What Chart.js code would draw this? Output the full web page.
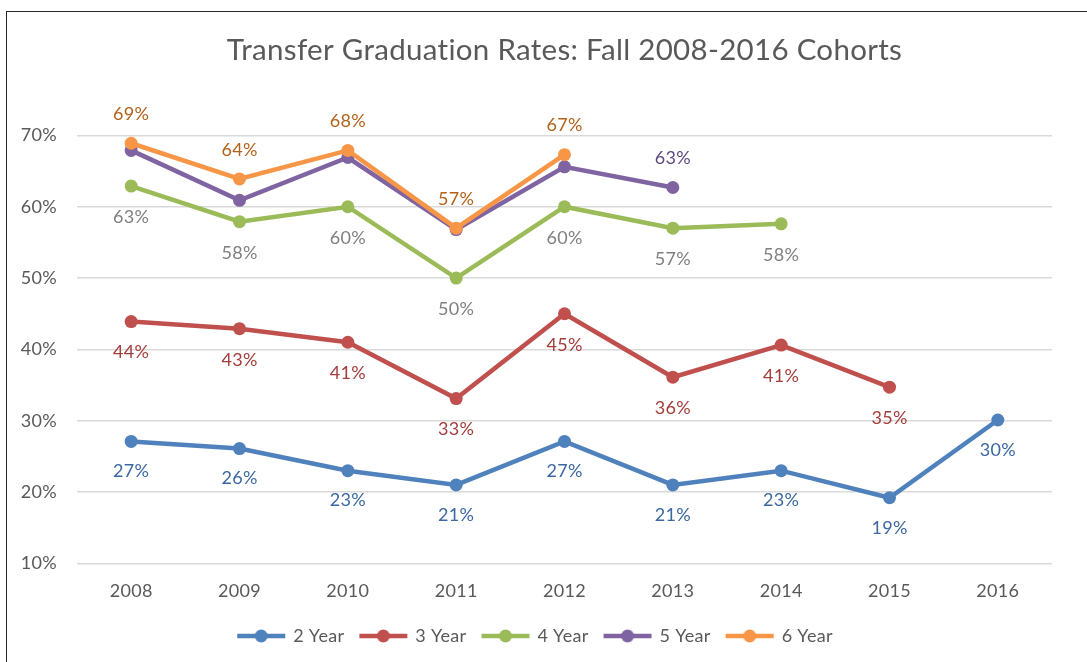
<!DOCTYPE html>
<html>
<head>
<meta charset="utf-8">
<script src="https://cdn.jsdelivr.net/npm/chart.js@4"></script>
<style>
  html, body { margin: 0; padding: 0; background: #fff; overflow: hidden; }
  #wrap { position: absolute; left: 0; top: 0; width: 1087px; height: 662px; }
  #frame { position: absolute; left: 6px; top: 11px; width: 1200px; height: 800px;
           border: 1px solid #2b2b2b; pointer-events: none; }
</style>
</head>
<body>
<div id="wrap"><canvas id="gradChart"></canvas></div>
<div id="frame"></div>
<script>
// cohort years on the x axis
const years = ["2008", "2009", "2010", "2011", "2012", "2013", "2014", "2015", "2016"];

// graduation rates (%)
const year2 = [27.1, 26.1, 23.0, 21.0, 27.1, 21.0, 23.0, 19.2, 30.1];
const year3 = [43.9, 42.9, 41.0, 33.1, 45.0, 36.1, 40.6, 34.7, null];
const year4 = [62.9, 57.9, 60.0, 50.0, 60.0, 57.0, 57.6, null, null];
const year5 = [67.9, 60.9, 66.9, 56.8, 65.6, 62.7, null, null, null];
const year6 = [68.9, 63.9, 67.9, 57.0, 67.3, null, null, null, null];

const yTicks = [10, 20, 30, 40, 50, 60, 70];

const FONT = "Lato, 'Open Sans', sans-serif";

// small line+dot picture for the legend entries
function swatch(color) {
    const c = document.createElement("canvas");
    c.width = 50; c.height = 14;
    const g = c.getContext("2d");
    g.strokeStyle = color;
    g.lineWidth = 4.5;
    g.beginPath(); g.moveTo(1, 7); g.lineTo(49, 7); g.stroke();
    g.fillStyle = color;
    g.beginPath(); g.arc(25, 7, 6.5, 0, Math.PI * 2); g.fill();
    return c;
}

// Lato turns "ti" into a ligature; a tiny letter spacing stops that
const noLigatures = {
    id: "noLigatures",
    beforeDraw(chart) { chart.ctx.letterSpacing = "0.3px"; }
};

// draws the % labels next to the points
const valueLabels = {
    id: "valueLabels",
    afterDatasetsDraw(chart) {
        const ctx = chart.ctx;
        ctx.save();
        ctx.font = "18px " + FONT;
        ctx.textAlign = "center";
        ctx.textBaseline = "middle";
        chart.data.datasets.forEach((ds, i) => {
            const meta = chart.getDatasetMeta(i);
            meta.data.forEach((pt, j) => {
                const v = ds.data[j];
                if (v == null) return;
                if (ds.labelOnly && !ds.labelOnly.includes(j)) return;
                ctx.fillStyle = ds.labelColor;
                ctx.fillText(Math.round(v) + "%", pt.x, pt.y + ds.labelOffset);
            });
        });
        ctx.restore();
    }
};

function series(label, data, color, labelColor, labelOffset, order) {
    return {
        label, data, order,
        borderColor: color,
        backgroundColor: color,
        pointBackgroundColor: color,
        pointBorderWidth: 0,
        pointRadius: 6.5,
        pointHoverRadius: 6.5,
        borderWidth: 4.5,
        tension: 0,
        labelColor, labelOffset
    };
}

const datasets = [
    series("2 Year", year2, "#4F81BD", "#3B67A2", 30, 5),
    series("3 Year", year3, "#C0504D", "#A33D3A", 31, 4),
    series("4 Year", year4, "#9BBB59", "#7F7F7F", 31, 3),
    series("5 Year", year5, "#8064A2", "#5F4A80", -29, 2),
    series("6 Year", year6, "#F79646", "#B3621B", -29, 1)
];
datasets[3].labelOnly = [5];

const swatches = datasets.map(d => swatch(d.borderColor));

new Chart(document.getElementById("gradChart"), {
    type: "line",
    data: { labels: years, datasets },
    plugins: [noLigatures, valueLabels],
    options: {
        responsive: true,
        maintainAspectRatio: false,
        animation: false,
        layout: { padding: { left: 10, right: 35, top: 0, bottom: 7 } },
        plugins: {
            title: {
                display: true,
                fullSize: false,
                text: "Transfer Graduation Rates: Fall 2008-2016 Cohorts",
                color: "#595959",
                font: { family: FONT, size: 29.5, weight: "normal" },
                padding: { top: 33, bottom: 67 }
            },
            legend: {
                position: "bottom",
                labels: {
                    usePointStyle: true,
                    pointStyleWidth: 46,
                    padding: 16,
                    color: "#595959",
                    font: { family: FONT, size: 18 },
                    sort: (a, b) => a.datasetIndex - b.datasetIndex,
                    generateLabels(chart) {
                        const items = Chart.defaults.plugins.legend.labels.generateLabels(chart);
                        items.forEach(it => { it.pointStyle = swatches[it.datasetIndex]; });
                        return items;
                    }
                }
            },
            tooltip: { enabled: false }
        },
        scales: {
            x: {
                offset: true,
                grid: { display: false },
                border: { display: false },
                ticks: { color: "#595959", font: { family: FONT, size: 18 }, padding: 9 }
            },
            y: {
                min: yTicks[0],
                max: yTicks[yTicks.length - 1],
                afterFit(scale) { scale.width = 67; },
                afterBuildTicks(scale) { scale.ticks = yTicks.map(v => ({ value: v })); },
                grid: { color: "#D9D9D9", lineWidth: 1.5, drawTicks: false },
                border: { display: false },
                ticks: {
                    color: "#595959",
                    font: { family: FONT, size: 18 },
                    padding: 20,
                    callback: v => v + "%"
                }
            }
        }
    }
});
</script>
</body>
</html>
